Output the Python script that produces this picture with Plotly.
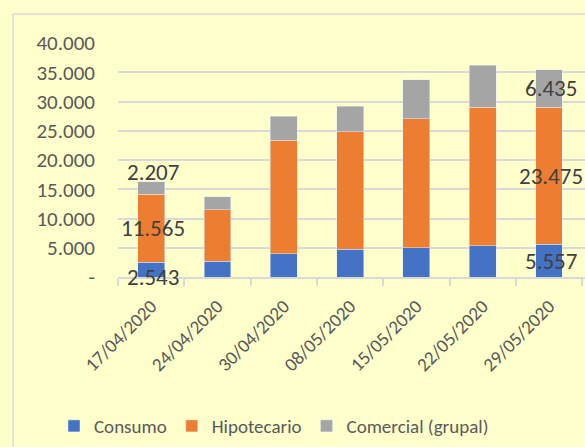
import plotly.graph_objects as go

dates = ["17/04/2020", "24/04/2020", "30/04/2020", "08/05/2020",
         "15/05/2020", "22/05/2020", "29/05/2020"]
consumo = [2543, 2700, 4000, 4760, 5040, 5330, 5557]
hipotecario = [11565, 8800, 19400, 20100, 21990, 23660, 23475]
comercial = [2207, 2240, 4100, 4350, 6650, 7210, 6435]

tick_vals = [0, 5000, 10000, 15000, 20000, 25000, 30000, 35000, 40000]
tick_text = ["-", "5.000", "10.000", "15.000", "20.000", "25.000",
             "30.000", "35.000", "40.000"]

FONT = "Carlito, Calibri, Lato, sans-serif"
BG = "#FFFFCC"
GRID = "#D9D9D9"


def fmt(v):
    return f"{v:,}".replace(",", ".")


fig = go.Figure()
fig.add_bar(x=dates, y=consumo, name="Consumo", marker_color="#4472C4")
fig.add_bar(x=dates, y=hipotecario, name="Hipotecario", marker_color="#ED7D31")
fig.add_bar(x=dates, y=comercial, name="Comercial (grupal)", marker_color="#A5A5A5")

annots = []
lab_font = dict(family=FONT, size=23, color="#404040")
i = 0
annots.append(dict(x=dates[i], y=0, text=fmt(consumo[i]), showarrow=False,
                   yanchor="middle", xshift=2, font=lab_font))
annots.append(dict(x=dates[i], y=consumo[i] + hipotecario[i] / 2, text=fmt(hipotecario[i]),
                   showarrow=False, yanchor="middle", xshift=2, font=lab_font))
annots.append(dict(x=dates[i], y=consumo[i] + hipotecario[i] + comercial[i],
                   text=fmt(comercial[i]), showarrow=False, yanchor="bottom",
                   yshift=-6, xshift=2, font=lab_font))
i = len(dates) - 1
annots.append(dict(x=dates[i], y=consumo[i] / 2, text=fmt(consumo[i]), showarrow=False,
                   yanchor="middle", xshift=2, font=lab_font))
annots.append(dict(x=dates[i], y=consumo[i] + hipotecario[i] / 2, text=fmt(hipotecario[i]),
                   showarrow=False, yanchor="middle", xshift=2, font=lab_font))
annots.append(dict(x=dates[i], y=consumo[i] + hipotecario[i] + comercial[i] / 2,
                   text=fmt(comercial[i]), showarrow=False, yanchor="middle",
                   xshift=2, font=lab_font))

fig.update_layout(
    width=585, height=447,
    barmode="stack", bargap=0.595,
    paper_bgcolor=BG, plot_bgcolor=BG,
    margin=dict(l=118, r=0, t=43, b=170, autoexpand=False),
    font=dict(family=FONT, size=18, color="#595959"),
    annotations=annots,
    legend=dict(orientation="h", x=0.334, xanchor="center", y=-0.637, yanchor="middle",
                font=dict(family=FONT, size=19, color="#595959"),
                bgcolor="rgba(0,0,0,0)", traceorder="normal"),
    shapes=[dict(type="rect", xref="paper", yref="paper",
                 x0=-0.2248, x1=1.2, y0=-1.5, y1=1.124,
                 line=dict(color=GRID, width=1.5), fillcolor="rgba(0,0,0,0)",
                 layer="below")],
    showlegend=True,
)
fig.update_yaxes(range=[0, 40000], tickvals=tick_vals, ticktext=tick_text,
                 showgrid=True, gridcolor=GRID, gridwidth=1.5,
                 zeroline=False, showline=False, ticks="",
                 ticklabelstandoff=22, automargin=False,
                 tickfont=dict(family=FONT, size=21, color="#595959"))
fig.update_xaxes(showline=True, linecolor=GRID, linewidth=1.5,
                 ticks="outside", tickson="boundaries", ticklen=7, tickcolor=GRID,
                 tickwidth=1.5, tickangle=-45, automargin=False,
                 ticklabelstandoff=9,
                 tickfont=dict(family=FONT, size=19, color="#595959"))

fig.write_html("out.html",
               config={"displayModeBar": False},
               post_script="document.body.style.margin='0';"
                           "document.body.style.overflow='hidden';"
                           "document.body.style.background='#FFFFCC';")
